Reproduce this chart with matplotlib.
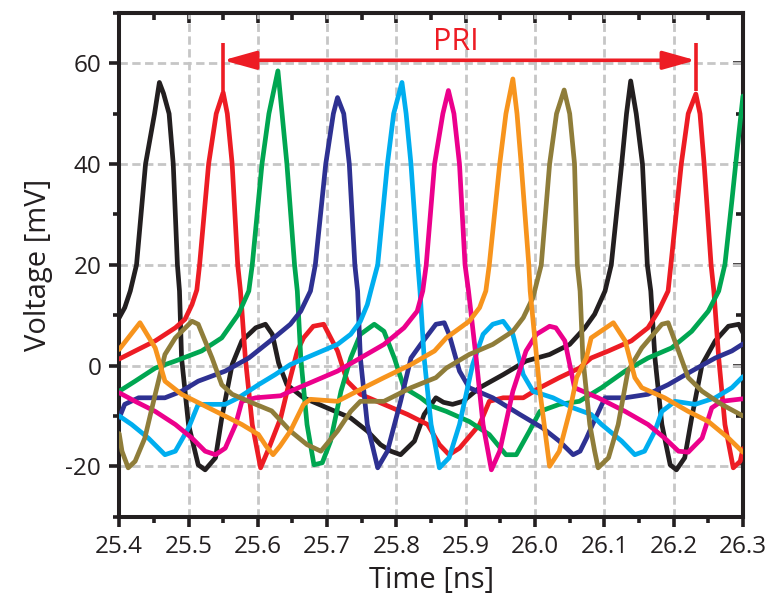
import matplotlib
matplotlib.use("Agg")
import matplotlib.pyplot as plt
from matplotlib.ticker import MultipleLocator, FormatStrFormatter

plt.rcParams['font.family'] = ['Open Sans', 'DejaVu Sans']
plt.rcParams['axes.unicode_minus'] = False

# ---- measured channel waveforms: time [ns], voltage [mV] ----
black_t = [25.400, 25.408, 25.416, 25.425, 25.438, 25.451, 25.458, 25.464, 25.472, 25.478,
           25.484, 25.487, 25.490, 25.500, 25.514, 25.524, 25.539, 25.548, 25.563, 25.577,
           25.597, 25.611, 25.621, 25.630, 25.642, 25.666, 25.700, 25.734, 25.758, 25.777,
           25.792, 25.806, 25.826, 25.840, 25.857, 25.868, 25.881, 25.896, 25.920, 25.954,
           25.987, 26.021, 26.050, 26.072, 26.086, 26.101, 26.110, 26.125, 26.132, 26.138,
           26.146, 26.155, 26.162, 26.167, 26.173, 26.183, 26.195, 26.204, 26.216, 26.226,
           26.241, 26.260, 26.279, 26.294, 26.300]
black_v = [9.5, 11.5, 14.8, 20.0, 40.0, 50.0, 56.2, 54.0, 50.0, 40.0,
           20.0, 14.8, 1.5, -11.7, -19.7, -20.7, -18.3, -10.4, 0.2, 4.9,
           7.5, 8.2, 6.2, 0.5, -3.8, -6.4, -8.4, -10.4, -13.0, -15.7,
           -17.0, -17.7, -15.0, -9.7, -6.4, -7.3, -7.7, -7.1, -4.4, -1.8,
           0.9, 2.2, 4.2, 7.5, 10.2, 14.8, 20.0, 40.0, 50.0, 56.5,
           50.0, 40.0, 20.0, 14.8, 1.5, -11.7, -19.7, -20.7, -18.3, -10.4,
           0.2, 4.9, 7.8, 8.2, 6.5]

red_t = [25.400, 25.423, 25.452, 25.481, 25.495, 25.505, 25.512, 25.516, 25.529, 25.540,
         25.550, 25.556, 25.563, 25.571, 25.575, 25.582, 25.592, 25.604, 25.616, 25.633,
         25.647, 25.657, 25.666, 25.680, 25.695, 25.715, 25.729, 25.748, 25.782, 25.816,
         25.845, 25.862, 25.876, 25.891, 25.920, 25.934, 25.954, 25.983, 26.007, 26.035,
         26.064, 26.081, 26.106, 26.139, 26.163, 26.178, 26.192, 26.196, 26.211, 26.221,
         26.232, 26.238, 26.244, 26.254, 26.258, 26.265, 26.274, 26.286, 26.296, 26.300]
red_v = [1.3, 2.9, 4.9, 7.5, 9.2, 12.1, 15.0, 20.0, 40.0, 50.0,
         54.2, 50.0, 40.0, 20.0, 14.8, 1.5, -11.7, -20.3, -16.4, -10.4,
         -2.4, 2.9, 5.5, 7.8, 8.2, 2.9, -3.1, -5.7, -7.7, -9.7,
         -11.7, -15.7, -17.7, -16.4, -11.7, -7.1, -6.4, -6.4, -4.4, -2.4,
         -0.5, 1.5, 2.9, 4.9, 7.5, 10.8, 14.8, 20.0, 40.0, 50.0,
         53.9, 50.0, 40.0, 20.0, 14.8, 1.5, -11.7, -20.3, -19.0, -16.5]

green_t = [25.400, 25.423, 25.452, 25.481, 25.519, 25.548, 25.572, 25.587, 25.592, 25.606,
           25.616, 25.629, 25.635, 25.642, 25.653, 25.657, 25.662, 25.671, 25.681, 25.693,
           25.705, 25.720, 25.734, 25.748, 25.768, 25.782, 25.797, 25.811, 25.835, 25.850,
           25.872, 25.905, 25.934, 25.958, 25.973, 25.992, 26.007, 26.035, 26.064, 26.096,
           26.130, 26.163, 26.197, 26.226, 26.250, 26.265, 26.274, 26.284, 26.294, 26.300]
green_v = [-5.1, -3.1, -0.5, 0.9, 2.9, 5.5, 10.2, 14.8, 20.0, 40.0,
           50.0, 58.5, 50.0, 40.0, 20.0, 14.8, 1.5, -11.7, -19.7, -19.3,
           -15.0, -5.1, 1.5, 6.2, 8.2, 6.8, 1.5, -4.4, -6.4, -8.0,
           -9.1, -11.1, -13.7, -17.7, -17.7, -13.0, -9.1, -7.7, -7.1, -4.4,
           -1.1, 1.5, 3.5, 6.8, 10.8, 14.8, 20.1, 32.7, 45.9, 53.5]

navy_t = [25.400, 25.408, 25.428, 25.466, 25.490, 25.514, 25.553, 25.587, 25.618, 25.647,
          25.662, 25.676, 25.683, 25.698, 25.709, 25.715, 25.724, 25.732, 25.740, 25.744,
          25.748, 25.758, 25.773, 25.787, 25.806, 25.821, 25.835, 25.857, 25.869, 25.876,
          25.891, 25.905, 25.939, 25.978, 26.011, 26.035, 26.055, 26.065, 26.074, 26.083,
          26.101, 26.130, 26.163, 26.192, 26.226, 26.260, 26.284, 26.300]
navy_v = [-10.4, -7.7, -6.4, -6.4, -5.1, -3.1, -1.1, 1.5, 4.9, 8.2,
          10.8, 14.8, 20.0, 40.0, 50.0, 53.2, 50.0, 40.0, 20.0, 14.8,
          1.5, -11.7, -20.3, -17.0, -7.1, 1.5, 4.2, 8.2, 8.5, 6.2,
          -1.1, -4.4, -6.4, -9.7, -12.4, -15.0, -17.7, -17.0, -14.5, -11.7,
          -6.4, -6.4, -5.7, -3.8, -1.1, 1.5, 2.9, 4.3]

cyan_t = [25.400, 25.418, 25.442, 25.466, 25.481, 25.500, 25.514, 25.534, 25.553, 25.572,
          25.601, 25.625, 25.647, 25.681, 25.715, 25.734, 25.748, 25.758, 25.763, 25.773,
          25.787, 25.796, 25.808, 25.814, 25.821, 25.831, 25.834, 25.840, 25.850, 25.855,
          25.862, 25.876, 25.891, 25.910, 25.925, 25.939, 25.954, 25.968, 25.983, 25.997,
          26.026, 26.055, 26.081, 26.096, 26.125, 26.144, 26.158, 26.173, 26.183, 26.202,
          26.231, 26.260, 26.284, 26.300]
cyan_v = [-10.0, -11.7, -14.4, -17.7, -17.0, -12.4, -7.7, -7.7, -7.7, -6.4,
          -3.8, -1.8, 0.2, 2.2, 4.2, 6.2, 8.8, 12.1, 14.8, 20.0,
          40.0, 50.0, 56.2, 50.0, 40.0, 20.0, 14.8, 1.5, -11.7, -15.0,
          -20.3, -18.3, -11.7, 0.2, 6.2, 8.2, 8.8, 6.2, -1.8, -5.1,
          -6.4, -8.4, -9.7, -11.7, -15.0, -17.7, -17.0, -13.0, -9.1, -7.1,
          -7.7, -6.4, -4.4, -2.2]

magenta_t = [25.400, 25.423, 25.452, 25.481, 25.505, 25.524, 25.539, 25.553, 25.568, 25.577,
             25.597, 25.633, 25.647, 25.681, 25.715, 25.748, 25.782, 25.811, 25.830, 25.838,
             25.843, 25.855, 25.867, 25.875, 25.883, 25.891, 25.899, 25.904, 25.915, 25.925,
             25.937, 25.949, 25.968, 25.987, 26.002, 26.021, 26.030, 26.043, 26.057, 26.091,
             26.130, 26.163, 26.187, 26.207, 26.221, 26.241, 26.255, 26.269, 26.300]
magenta_v = [-5.4, -7.1, -9.1, -11.7, -14.4, -17.0, -17.7, -16.4, -11.7, -7.1,
             -6.4, -6.0, -5.1, -3.1, -1.1, 1.5, 4.2, 7.5, 10.8, 14.8,
             20.0, 40.0, 50.0, 54.6, 50.0, 40.0, 20.0, 14.8, 1.5, -11.7,
             -20.7, -17.0, -5.1, 2.9, 6.2, 7.8, 7.5, 4.9, -4.4, -6.4,
             -9.1, -11.7, -14.4, -17.0, -17.2, -14.4, -8.4, -7.1, -6.6]

orange_t = [25.400, 25.430, 25.452, 25.466, 25.490, 25.519, 25.548, 25.577, 25.601, 25.612,
            25.622, 25.632, 25.647, 25.666, 25.676, 25.715, 25.753, 25.782, 25.821, 25.855,
            25.872, 25.905, 25.920, 25.929, 25.934, 25.949, 25.958, 25.968, 25.974, 25.980,
            25.991, 25.993, 26.007, 26.021, 26.035, 26.050, 26.060, 26.074, 26.081, 26.113,
            26.130, 26.144, 26.154, 26.187, 26.221, 26.250, 26.279, 26.300]
orange_v = [3.2, 8.5, 3.5, -3.1, -5.7, -7.7, -9.7, -11.7, -13.7, -16.0,
            -17.7, -16.0, -13.0, -7.7, -6.7, -7.1, -4.4, -2.4, 0.2, 2.9,
            5.5, 8.8, 11.5, 14.8, 20.0, 40.0, 50.0, 56.9, 50.0, 40.0,
            20.0, 14.8, -5.1, -20.0, -17.0, -9.1, -2.4, 1.5, 5.5, 8.5,
            4.9, -2.4, -4.4, -6.4, -9.1, -11.1, -14.4, -17.2]

olive_t = [25.400, 25.404, 25.413, 25.423, 25.437, 25.452, 25.466, 25.481, 25.505, 25.514,
           25.534, 25.548, 25.563, 25.597, 25.620, 25.647, 25.671, 25.691, 25.715, 25.734,
           25.748, 25.782, 25.821, 25.857, 25.872, 25.905, 25.939, 25.968, 25.983, 25.997,
           26.009, 26.021, 26.031, 26.042, 26.050, 26.057, 26.061, 26.065, 26.069, 26.079,
           26.086, 26.091, 26.106, 26.120, 26.134, 26.154, 26.183, 26.192, 26.207, 26.221,
           26.241, 26.269, 26.300]
olive_v = [-13.5, -17.0, -20.3, -19.0, -14.4, -5.7, 2.2, 5.5, 8.8, 8.2,
           1.5, -3.8, -5.7, -7.7, -9.0, -13.0, -15.7, -17.0, -13.0, -9.1,
           -7.1, -7.1, -4.4, -2.4, -0.5, 2.2, 4.2, 6.8, 9.5, 13.5,
           20.0, 40.0, 50.0, 54.7, 50.0, 40.0, 20.0, 14.8, 1.5, -11.7,
           -17.0, -20.3, -18.3, -11.7, -1.1, 3.5, 8.2, 8.5, 2.9, -2.4,
           -5.1, -7.7, -10.0]

# pulse repetition interval marker (between two red peaks)
pri_start, pri_end = 25.550, 26.232
pri_level = 60.6
pri_label = "PRI"

x_ticks = [25.4, 25.5, 25.6, 25.7, 25.8, 25.9, 26.0, 26.1, 26.2, 26.3]
y_ticks = [-20, 0, 20, 40, 60]

series = [
    (black_t, black_v, '#231f20'),
    (red_t, red_v, '#ed1c24'),
    (green_t, green_v, '#00a651'),
    (navy_t, navy_v, '#2e3192'),
    (cyan_t, cyan_v, '#00aeef'),
    (magenta_t, magenta_v, '#ec008c'),
    (olive_t, olive_v, '#8f7d3a'),
    (orange_t, orange_v, '#f7941d'),
]

ink = '#231f20'
fig = plt.figure(figsize=(7.68, 6.05), dpi=100)
ax = fig.add_axes([0.1552, 0.146, 0.8122, 0.8326])

for t, v, c in series:
    ax.plot(t, v, color=c, lw=3.4, solid_joinstyle='round', solid_capstyle='round', zorder=3)

ax.set_xlim(25.4, 26.3)
ax.set_ylim(-30, 70)
ax.set_xticks(x_ticks)
ax.set_yticks(y_ticks)
ax.xaxis.set_minor_locator(MultipleLocator(0.05))
ax.yaxis.set_minor_locator(MultipleLocator(10))
ax.xaxis.set_major_formatter(FormatStrFormatter('%.1f'))

ax.grid(which='major', color='#c6c6c6', lw=2.0, linestyle=(0, (3, 1.6)), zorder=1)
ax.set_axisbelow(True)

for s in ax.spines.values():
    s.set_linewidth(2.9)
    s.set_color(ink)

ax.tick_params(which='major', direction='out', length=7, width=2.6, colors=ink,
               labelsize=17.5, pad=6)
ax.tick_params(which='minor', direction='out', length=4, width=2.6, colors=ink)

# inward ticks on top and right edges
top = ax.secondary_xaxis('top')
top.set_xticks(x_ticks)
top.xaxis.set_minor_locator(MultipleLocator(0.05))
top.tick_params(which='major', direction='in', length=7, width=2.6, labeltop=False, colors=ink)
top.tick_params(which='minor', direction='in', length=5, width=2.6, colors=ink)
top.spines['top'].set_linewidth(2.9)

right = ax.secondary_yaxis('right')
right.set_yticks(y_ticks)
right.yaxis.set_minor_locator(MultipleLocator(10))
right.tick_params(which='major', direction='in', length=7, width=2.6, labelright=False, colors=ink)
right.tick_params(which='minor', direction='in', length=5, width=2.6, colors=ink)
right.spines['right'].set_linewidth(2.9)

ax.set_xlabel('Time [ns]', fontsize=21, color=ink, labelpad=5)
ax.set_ylabel('Voltage [mV]', fontsize=21, color=ink, labelpad=9)

# PRI annotation
red = '#ed1c24'
for xe in (pri_start, pri_end):
    ax.plot([xe, xe], [54.5, 64.0], color=red, lw=2.6, solid_capstyle='butt', zorder=4)
ax.annotate('', xy=(pri_start, pri_level), xytext=(pri_end, pri_level),
            arrowprops=dict(arrowstyle='<|-|>,head_length=1.0,head_width=0.28',
                            mutation_scale=20, lw=2.6, color=red,
                            shrinkA=0, shrinkB=0), zorder=4)
ax.text((pri_start + pri_end) / 2 - 0.005, pri_level + 0.6, pri_label, color=red,
        fontsize=22, ha='center', va='bottom', zorder=4)

fig.savefig('out.png', dpi=100)
